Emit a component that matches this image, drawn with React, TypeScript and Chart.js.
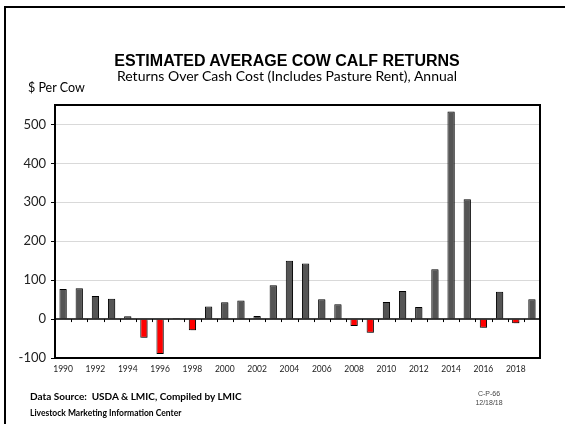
import React, { useEffect, useRef } from "react";
import { Chart, registerables } from "chart.js";

Chart.register(...registerables);

const years: string[] = [
  "1990", "1991", "1992", "1993", "1994", "1995", "1996", "1997", "1998", "1999",
  "2000", "2001", "2002", "2003", "2004", "2005", "2006", "2007", "2008", "2009",
  "2010", "2011", "2012", "2013", "2014", "2015", "2016", "2017", "2018", "2019",
];

const returnsPerCow: number[] = [
  77, 79, 59, 52, 7, -48, -90, 3, -29, 32,
  43, 48, 8, 87, 150, 143, 51, 38, -18, -35,
  44, 72, 31, 128, 533, 308, -22, 70, -11, 51,
];

const yTickValues: number[] = [-100, 0, 100, 200, 300, 400, 500];

const titleText = "ESTIMATED AVERAGE COW CALF RETURNS";
const subtitleText = "Returns Over Cash Cost (Includes Pasture Rent), Annual";
const yUnitText = "$ Per Cow";
const sourceText = "Data Source:  USDA & LMIC, Compiled by LMIC";
const centerText = "Livestock Marketing Information Center";
const codeText = "C-P-66";
const dateText = "12/18/18";

const framePlugin = {
  id: "frameAndTicks",
  beforeDatasetsDraw(chart: any) {
    const ctx = chart.ctx;
    ctx.save();
    ctx.shadowColor = "rgba(0,0,0,0.28)";
    ctx.shadowOffsetX = 2;
    ctx.shadowOffsetY = 1;
    ctx.shadowBlur = 0;
  },
  afterDatasetsDraw(chart: any) {
    chart.ctx.restore();
  },
  afterDraw(chart: any) {
    const { ctx, chartArea } = chart;
    const y = chart.scales.y;
    const x = chart.scales.x;
    const y0 = y.getPixelForValue(0);
    ctx.save();
    ctx.strokeStyle = "#000";
    ctx.lineWidth = 1.5;
    ctx.beginPath();
    ctx.moveTo(chartArea.left, y0);
    ctx.lineTo(chartArea.right, y0);
    ctx.stroke();
    ctx.lineWidth = 1;
    const n = years.length;
    for (let i = 1; i < n; i++) {
      const px = (x.getPixelForValue(i - 1) + x.getPixelForValue(i)) / 2;
      ctx.beginPath();
      ctx.moveTo(Math.round(px) + 0.5, y0);
      ctx.lineTo(Math.round(px) + 0.5, y0 + 3);
      ctx.stroke();
    }
    ctx.lineWidth = 2;
    ctx.strokeRect(chartArea.left, chartArea.top, chartArea.right - chartArea.left, chartArea.bottom - chartArea.top);
    ctx.restore();
  },
};

function BarChart() {
  const canvasRef = useRef<HTMLCanvasElement | null>(null);
  useEffect(() => {
    if (!canvasRef.current) return;
    const chart = new Chart(canvasRef.current, {
      type: "bar",
      data: {
        labels: years,
        datasets: [
          {
            data: returnsPerCow,
            backgroundColor: returnsPerCow.map((v) => (v < 0 ? "#FF0000" : "#555555")),
            borderColor: "#000000",
            borderWidth: 1,
            barPercentage: 0.45,
            categoryPercentage: 1,
          },
        ],
      },
      options: {
        animation: false,
        responsive: false,
        maintainAspectRatio: false,
        layout: { padding: { left: 0, top: 105, right: 25, bottom: 0 } },
        plugins: { legend: { display: false }, tooltip: { enabled: false }, title: { display: false } },
        scales: {
          x: {
            afterFit: (s: any) => {
              s.height = 66;
            },
            grid: { display: false, drawTicks: false },
            border: { display: true, color: "#000", width: 2 },
            ticks: {
              autoSkip: false,
              maxRotation: 0,
              minRotation: 0,
              padding: 6,
              color: "#222",
              font: { family: "Lato", size: 8.5 },
              callback: (_v: any, i: number) => (i % 2 === 0 ? years[i] : ""),
            },
          },
          y: {
            min: -100,
            max: 550,
            afterFit: (s: any) => {
              s.width = 55;
            },
            afterBuildTicks: (s: any) => {
              s.ticks = yTickValues.map((v) => ({ value: v }));
            },
            border: { display: true, color: "#000", width: 2 },
            grid: {
              color: (c: any) => (c.tick && (c.tick.value === 0 || c.tick.value === -100) ? "rgba(0,0,0,0)" : "#d9d9d9"),
              tickColor: "#000",
              tickLength: 4,
              lineWidth: 1,
            },
            ticks: {
              padding: 5,
              color: "#222",
              font: { family: "Lato", size: 13 },
            },
          },
        },
      },
      plugins: [framePlugin],
    } as any);
    return () => chart.destroy();
  }, []);
  return <canvas ref={canvasRef} width={565} height={424} style={{ position: "absolute", left: 0, top: 0, width: 565, height: 424 }} />;
}

const abs = (extra: React.CSSProperties): React.CSSProperties => ({
  position: "absolute",
  whiteSpace: "pre",
  lineHeight: 1,
  transform: "translateY(-50%)",
  ...extra,
});

export default function App() {
  return (
    <div style={{ position: "absolute", left: 0, top: 0, width: 565, height: 424, overflow: "hidden", background: "#fff" }}>
      <div style={{ position: "absolute", left: 4, top: 6, width: 700, height: 700, border: "2px solid #000" }} />
      <BarChart />
      <div style={abs({ left: 0, width: 574, textAlign: "center", top: 61, fontFamily: "'Liberation Sans', Arial, sans-serif", fontWeight: "bold", fontSize: 16, color: "#000" })}>
        {titleText}
      </div>
      <div style={abs({ left: 0, width: 574, textAlign: "center", top: 76, fontFamily: "Lato, sans-serif", fontSize: 14, color: "#000" })}>
        {subtitleText}
      </div>
      <div style={abs({ left: 28, top: 88, fontFamily: "Lato, sans-serif", fontSize: 12.5, color: "#000" })}>{yUnitText}</div>
      <div style={abs({ left: 30, top: 396, fontFamily: "Lato, sans-serif", fontWeight: "bold", fontSize: 10, color: "#000" })}>
        {sourceText}
      </div>
      <div style={abs({ left: 30, top: 413, fontFamily: "Lato, sans-serif", fontWeight: "bold", fontSize: 8.5, color: "#000" })}>
        {centerText}
      </div>
      <div style={abs({ left: 459, width: 60, textAlign: "center", top: 393, fontFamily: "'Liberation Sans', Arial, sans-serif", fontSize: 7, color: "#444" })}>
        {codeText}
      </div>
      <div style={abs({ left: 459, width: 60, textAlign: "center", top: 402, fontFamily: "'Liberation Sans', Arial, sans-serif", fontSize: 7, color: "#444" })}>
        {dateText}
      </div>
    </div>
  );
}
